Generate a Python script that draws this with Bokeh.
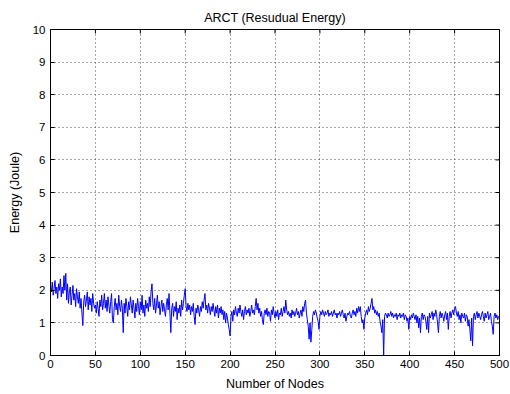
from bokeh.plotting import figure
from bokeh.models import Range1d, FixedTicker
from bokeh.embed import file_html
from bokeh.resources import INLINE

title_text = "ARCT (Resudual Energy)"
x_label = "Number of Nodes"
y_label = "Energy (Joule)"
x_ticks = [0, 50, 100, 150, 200, 250, 300, 350, 400, 450, 500]
y_ticks = [0, 1, 2, 3, 4, 5, 6, 7, 8, 9, 10]
x_max = 500
y_max = 10

energy = [
    2.15, 1.95, 2.25, 1.85, 2.05, 2.3, 1.9, 2.1, 1.75, 2.2,
    2.0, 2.35, 1.8, 2.1, 1.9, 2.45, 2.0, 2.52, 1.7, 2.2,
    1.6, 1.95, 2.1, 1.55, 1.85, 2.15, 1.7, 1.9, 1.5, 2.05,
    1.8, 1.6, 1.95, 1.45, 1.75, 1.3, 0.92, 1.65, 1.85, 1.5,
    1.7, 1.95, 1.4, 1.8, 1.55, 1.75, 1.35, 1.9, 1.6, 1.45,
    1.55, 1.3, 1.65, 1.45, 1.2, 1.7, 1.5, 1.85, 1.4, 1.6,
    1.9, 1.45, 1.7, 1.35, 1.8, 1.55, 1.3, 1.65, 1.9, 1.1,
    1.0, 1.5, 1.75, 1.4, 1.6, 1.25, 1.85, 1.5, 1.35, 1.7,
    1.45, 0.7, 1.6, 1.3, 1.75, 1.5, 1.2, 1.65, 1.4, 1.8,
    1.55, 1.3, 1.7, 1.45, 1.15, 1.6, 1.35, 1.75, 1.5, 1.25,
    1.65, 1.4, 1.85, 1.3, 1.55, 1.2, 1.7, 1.45, 1.6, 1.35,
    1.8, 1.5, 1.95, 2.2, 1.6, 1.4, 1.75, 1.3, 1.55, 1.85,
    1.45, 1.65, 1.25, 1.5, 1.7, 1.35, 1.6, 1.4, 1.2, 1.55,
    1.75, 1.4, 1.9, 1.3, 0.7, 1.45, 1.6, 1.2, 1.5, 1.35,
    1.65, 1.1, 1.45, 1.3, 1.55, 1.2, 1.7, 1.4, 1.6, 1.85,
    2.05, 1.5, 1.35, 1.6, 1.4, 1.55, 1.25, 1.5, 1.35, 1.6,
    1.2, 0.95, 1.45, 1.3, 1.55, 1.4, 1.2, 1.5, 1.35, 1.65,
    1.45, 1.7, 1.9, 1.4, 1.55, 1.3, 1.6, 1.45, 1.25, 1.5,
    1.35, 1.6, 1.4, 1.2, 1.5, 1.3, 1.55, 1.15, 1.45, 1.3,
    1.5, 1.25, 1.4, 1.1, 1.35, 1.0, 1.3, 1.15, 0.95, 0.8,
    0.6, 1.2, 1.35, 1.05, 1.4, 1.25, 1.5, 1.3, 1.2, 1.45,
    1.3, 1.55, 1.35, 1.2, 1.4, 1.1, 1.35, 1.5, 1.25, 1.4,
    1.3, 1.45, 1.2, 1.35, 1.55, 1.3, 1.4, 1.25, 1.5, 1.75,
    1.4, 1.6, 1.3, 1.45, 1.2, 1.35, 1.1, 0.95, 1.3, 1.4,
    1.25, 1.45, 1.2, 1.35, 1.3, 1.05, 1.4, 1.25, 1.5, 1.3,
    1.15, 1.35, 1.2, 1.4, 1.1, 1.3, 1.25, 1.45, 1.2, 1.35,
    1.5, 1.3, 1.7, 1.4, 1.25, 1.35, 1.2, 1.3, 1.15, 1.4,
    1.25, 1.35, 1.2, 1.3, 1.45, 1.25, 1.35, 1.15, 1.3, 1.4,
    1.2, 1.5, 1.35, 1.6, 1.7, 1.3, 1.1, 0.9, 0.5, 1.0,
    0.41, 0.8, 1.2, 1.35, 1.25, 1.4, 1.3, 1.15, 1.05, 0.8,
    1.2, 1.35, 1.25, 1.4, 1.3, 1.2, 1.35, 1.25, 1.3, 1.4,
    1.2, 1.3, 1.25, 1.35, 1.2, 1.3, 1.4, 1.25, 1.3, 1.15,
    1.3, 1.25, 1.35, 1.2, 1.3, 1.4, 1.25, 1.15, 1.3, 1.05,
    1.2, 1.3, 1.25, 1.35, 1.2, 1.15, 1.3, 1.4, 1.25, 1.35,
    1.2, 1.45, 1.3, 1.5, 1.35, 1.5, 1.2, 1.0, 1.1, 0.8,
    1.15, 1.3, 1.4, 1.25, 1.5, 1.35, 1.45, 1.6, 1.75, 1.4,
    1.5, 1.3, 1.4, 1.25, 1.35, 1.2, 1.3, 1.05, 0.9, 0.7,
    1.1, 0.0, 1.2, 1.3, 1.25, 1.15, 1.3, 1.2, 1.25, 1.35,
    1.2, 1.3, 1.15, 1.25, 1.2, 1.3, 1.1, 1.25, 1.2, 1.3,
    1.15, 1.25, 1.2, 1.3, 1.1, 1.25, 1.2, 1.05, 1.15, 0.8,
    1.2, 1.1, 1.25, 1.15, 1.3, 1.2, 1.1, 1.25, 1.0, 1.2,
    0.85, 1.15, 0.7, 1.2, 1.3, 1.1, 1.25, 1.2, 1.05, 0.8,
    1.2, 0.7, 1.3, 1.15, 1.25, 1.35, 1.1, 1.3, 1.2, 1.4,
    1.25, 1.0, 0.7, 1.2, 1.35, 1.15, 1.3, 1.2, 1.05, 1.25,
    1.35, 1.1, 1.3, 0.8, 1.2, 1.35, 1.15, 1.3, 1.4, 1.25,
    1.45, 1.5, 1.3, 1.2, 1.35, 1.1, 1.25, 1.0, 1.3, 1.2,
    1.15, 1.3, 1.05, 1.25, 1.2, 0.9, 1.1, 0.8, 0.45, 1.15,
    0.3, 1.2, 1.3, 1.1, 1.25, 1.35, 1.15, 1.3, 1.2, 1.1,
    1.25, 1.35, 1.2, 1.05, 1.3, 1.15, 1.25, 1.35, 1.1, 1.2,
    1.3, 1.05, 0.9, 0.65, 1.2, 1.3, 1.15, 1.25, 1.1, 1.2,
]
nodes = list(range(len(energy)))

FONT = "Liberation Sans"

p = figure(width=510, height=394, x_range=Range1d(0, x_max), y_range=Range1d(0, y_max),
           output_backend="svg", toolbar_location=None,
           min_border_left=50, min_border_right=11, min_border_top=29, min_border_bottom=39)
p.background_fill_color = "white"
p.border_fill_color = "white"
p.outline_line_color = "black"
p.outline_line_width = 1

for g, ticks in ((p.xgrid[0], x_ticks), (p.ygrid[0], y_ticks)):
    g.ticker = FixedTicker(ticks=ticks)
    g.grid_line_color = "#222222"
    g.grid_line_dash = "1 3"
    g.grid_line_alpha = 0.8

p.line(nodes, energy, line_color="#0000ff", line_width=1)

# inward tick marks on the top and right edges (MATLAB box style)
p.scatter(x_ticks, [y_max] * len(x_ticks), marker="dash", angle=1.5708, size=8,
          line_color="black", line_width=1)
p.scatter([x_max] * len(y_ticks), y_ticks, marker="dash", size=8,
          line_color="black", line_width=1)

p.title.text = title_text
p.title.align = "center"
p.title.text_font = FONT
p.title.text_font_size = "12.5px"
p.title.text_font_style = "normal"
p.title.text_color = "black"

for ax, ticks in ((p.xaxis[0], x_ticks), (p.yaxis[0], y_ticks)):
    ax.ticker = FixedTicker(ticks=ticks)
    ax.major_tick_in = 4
    ax.major_tick_out = 0
    ax.minor_tick_line_color = None
    ax.axis_line_color = "black"
    ax.major_tick_line_color = "black"
    ax.major_label_text_font = FONT
    ax.major_label_text_font_size = "11.5px"
    ax.major_label_text_color = "black"
    ax.axis_label_text_font = FONT
    ax.axis_label_text_font_size = "12.5px"
    ax.axis_label_text_font_style = "normal"
    ax.axis_label_text_color = "black"

p.xaxis[0].axis_label = x_label
p.yaxis[0].axis_label = y_label
p.xaxis[0].major_label_standoff = 4
p.xaxis[0].axis_label_standoff = 6
p.yaxis[0].major_label_standoff = 5
p.yaxis[0].axis_label_standoff = 8

open("out.html", "w").write(file_html(p, INLINE))
